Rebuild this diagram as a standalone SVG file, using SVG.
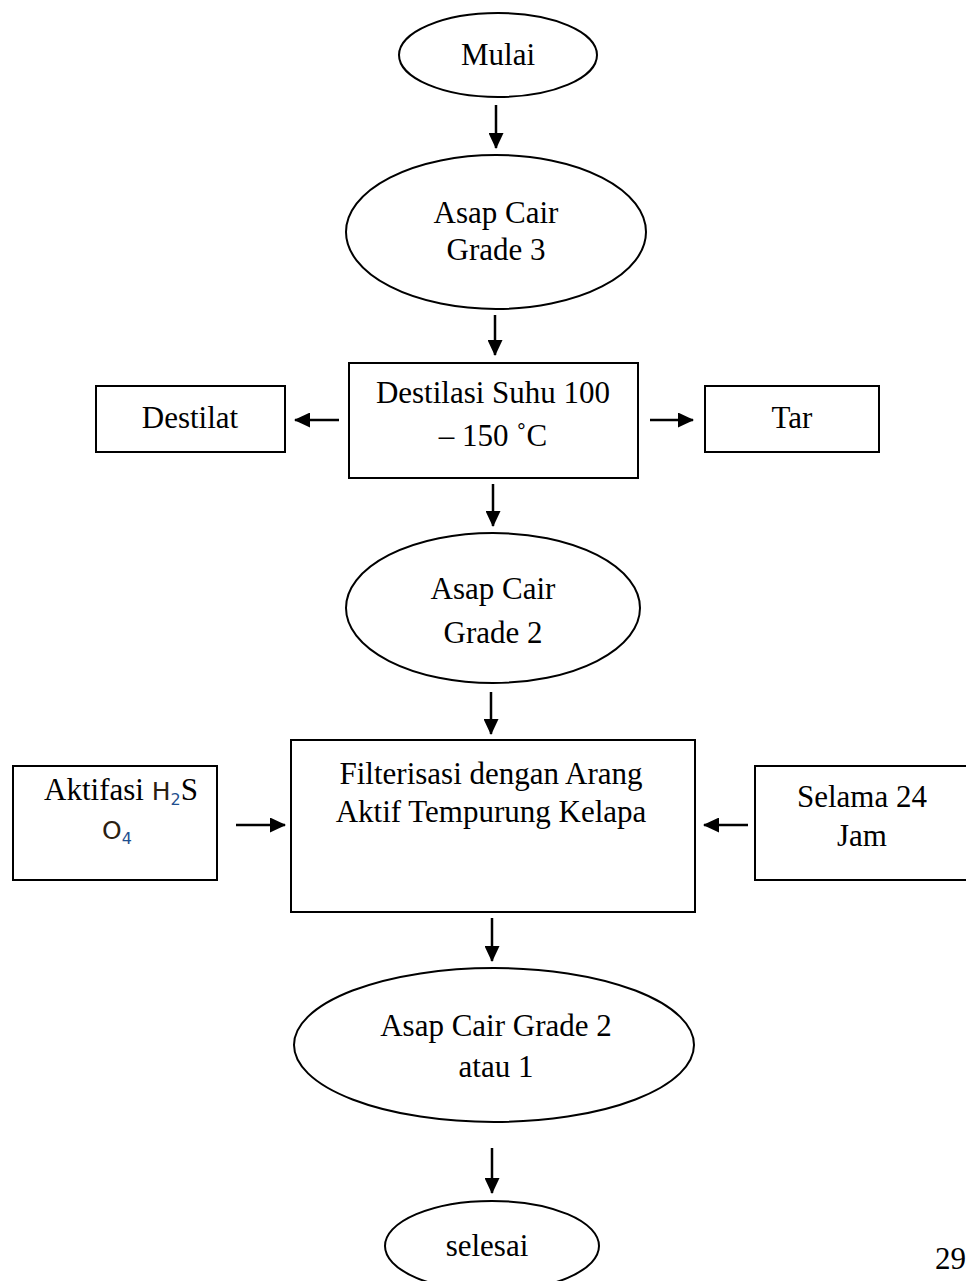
<svg xmlns="http://www.w3.org/2000/svg" width="966" height="1281" viewBox="0 0 966 1281">
<style>
.s{fill:#fff;stroke:#000;stroke-width:2}
.t{font-family:"Liberation Serif","Times New Roman",serif;font-size:31px;fill:#000;text-anchor:middle}
.c line{stroke:#000;stroke-width:2.5}
.f{font-family:"DejaVu Sans","Noto Sans",sans-serif;font-size:25px;fill:#2b2010}
.sub{font-family:"DejaVu Sans","Noto Sans",sans-serif;font-size:16px;fill:#1f4f8f}
</style>
<defs>
<marker id="ah" markerWidth="16" markerHeight="15" refX="15" refY="7.5" orient="auto" markerUnits="userSpaceOnUse">
<path d="M0,0 L16,7.5 L0,15 Z" fill="#000"/>
</marker>
</defs>
<rect width="966" height="1281" fill="#fff"/>
<g class="c" id="connectors">
<line x1="496" y1="105" x2="496" y2="148" marker-end="url(#ah)"/>
<line x1="495" y1="315" x2="495" y2="355" marker-end="url(#ah)"/>
<line x1="339" y1="420" x2="295" y2="420" marker-end="url(#ah)"/>
<line x1="650" y1="420" x2="693" y2="420" marker-end="url(#ah)"/>
<line x1="493" y1="484" x2="493" y2="526" marker-end="url(#ah)"/>
<line x1="491" y1="692" x2="491" y2="734" marker-end="url(#ah)"/>
<line x1="236" y1="825" x2="285" y2="825" marker-end="url(#ah)"/>
<line x1="748" y1="825" x2="704" y2="825" marker-end="url(#ah)"/>
<line x1="492" y1="918" x2="492" y2="961" marker-end="url(#ah)"/>
<line x1="492" y1="1148" x2="492" y2="1193" marker-end="url(#ah)"/>
</g>
<g id="mulai"><ellipse class="s" cx="498" cy="55" rx="99" ry="42"/><text class="t" x="498" y="65">Mulai</text></g>
<g id="grade3"><ellipse class="s" cx="496" cy="232" rx="150" ry="77"/><text class="t" x="496" y="223">Asap Cair</text><text class="t" x="496" y="260">Grade 3</text></g>
<g id="destilasi"><rect class="s" x="349" y="363" width="289" height="115"/><text class="t" x="493" y="403">Destilasi Suhu 100</text><text class="t" x="493" y="446">– 150 ˚C</text></g>
<g id="destilat"><rect class="s" x="96" y="386" width="189" height="66"/><text class="t" x="190" y="428">Destilat</text></g>
<g id="tar"><rect class="s" x="705" y="386" width="174" height="66"/><text class="t" x="792" y="428">Tar</text></g>
<g id="grade2"><ellipse class="s" cx="493" cy="608" rx="147" ry="75"/><text class="t" x="493" y="599">Asap Cair</text><text class="t" x="493" y="643">Grade 2</text></g>
<g id="filterisasi"><rect class="s" x="291" y="740" width="404" height="172"/><text class="t" x="491" y="784">Filterisasi dengan Arang</text><text class="t" x="491" y="822">Aktif Tempurung Kelapa</text></g>
<g id="aktifasi"><rect class="s" x="13" y="766" width="204" height="114"/><text class="t" x="121" y="800">Aktifasi <tspan class="f">H</tspan><tspan class="sub" dy="5">2</tspan><tspan dy="-5">S</tspan></text><text class="t" x="117" y="839"><tspan class="f">O</tspan><tspan class="sub" dy="5">4</tspan></text></g>
<g id="selama"><rect class="s" x="755" y="766" width="230" height="114"/><text class="t" x="862" y="807">Selama 24</text><text class="t" x="862" y="846">Jam</text></g>
<g id="grade21"><ellipse class="s" cx="494" cy="1045" rx="200" ry="77"/><text class="t" x="496" y="1036">Asap Cair Grade 2</text><text class="t" x="496" y="1077">atau 1</text></g>
<g id="selesai"><ellipse class="s" cx="492" cy="1246" rx="107" ry="45"/><text class="t" x="487" y="1256">selesai</text></g>
<text class="t" x="935" y="1269" style="text-anchor:start">294</text>
</svg>
